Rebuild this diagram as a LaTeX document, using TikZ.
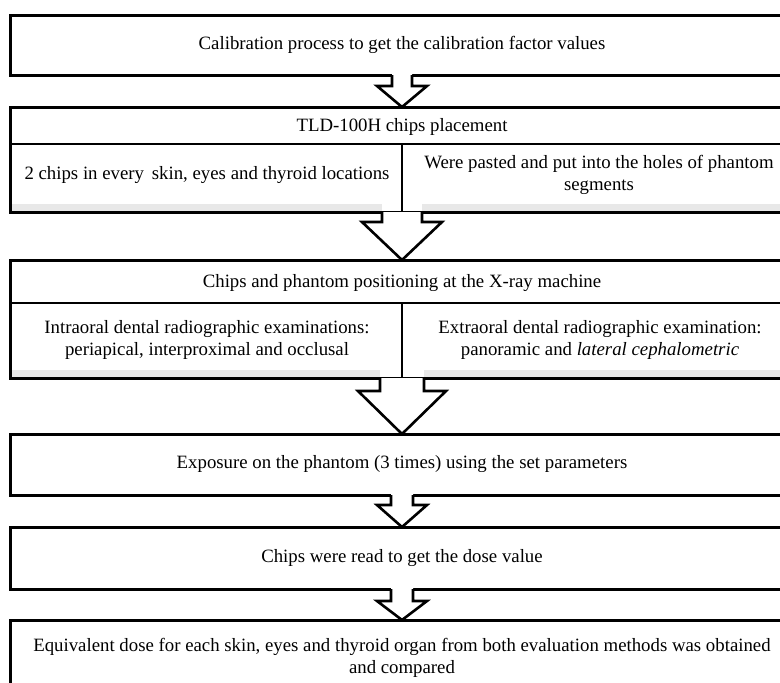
\documentclass[tikz,border=0pt]{standalone}
\usepackage{fontspec}
\setmainfont{Liberation Serif}
\usetikzlibrary{calc}
\begin{document}
\begin{tikzpicture}[x=1pt,y=-1pt,
  box/.style={draw=black,line width=3pt,minimum width=784pt,anchor=north west,inner sep=0pt,outer sep=0pt,align=center,font=\fontsize{18.8}{21.5}\selectfont},
  txt/.style={inner sep=0pt,align=center,font=\fontsize{18.8}{21.5}\selectfont},
  inner/.style={line width=2pt},
  arrline/.style={line width=2.6pt,line join=miter},
  band/.style={fill=black!9}]
\useasboundingbox (0,0) rectangle (780,683);
\clip (0,0) rectangle (780,683);
% boxes
\node[box,minimum height=60pt] (b1) at (10,15) {Calibration process to get the calibration factor values};
\node[box,minimum height=105pt] (b2) at (10,107) {};
\node[box,minimum height=118pt] (b3) at (10,260) {};
\node[box,minimum height=61pt] (b4) at (10,434) {Exposure on the phantom (3 times) using the set parameters};
\node[box,minimum height=62pt] (b5) at (10,527) {Chips were read to get the dose value};
\node[box,minimum height=90pt] (b6) at (10,620) {};
% box 2 content
\coordinate (d2) at (402,144);
\fill[band] (12,204) rectangle (382,210.5);
\fill[band] (422,204) rectangle (792,210.5);
\draw[inner] (b2.west |- d2) -- (b2.east |- d2);
\draw[inner] (d2) -- (d2 |- b2.south);
\node[txt] (b2h) at (402,127) {TLD-100H chips placement};
\node[txt] (b2l) at (207,175) {2 chips in every\, skin, eyes and thyroid locations};
\node[txt] (b2r) at (599,175) {Were pasted and put into the holes of phantom\\segments};
% box 3 content
\coordinate (d3) at (402,303);
\fill[band] (12,370) rectangle (380,376.5);
\fill[band] (424,370) rectangle (792,376.5);
\draw[inner] (b3.west |- d3) -- (b3.east |- d3);
\draw[inner] (d3) -- (d3 |- b3.south);
\node[txt] (b3h) at (402,283) {Chips and phantom positioning at the X-ray machine};
\node[txt] (b3l) at (207,340) {Intraoral dental radiographic examinations:\\periapical, interproximal and occlusal};
\node[txt] (b3r) at (600,340) {Extraoral dental radiographic examination:\\panoramic and \textit{lateral cephalometric}};
% box 6 content
\node[txt] (b6t) at (402,658) {Equivalent dose for each skin, eyes and thyroid organ from both evaluation methods was obtained\\and compared};
% arrow 1
\fill[white] ($(b1.south)+(-10,-2)$) -- ($(b1.south)+(-10,11)$) -- ($(b1.south)+(-25,11)$) -- (b2.north) -- ($(b1.south)+(25,11)$) -- ($(b1.south)+(10,11)$) -- ($(b1.south)+(10,-2)$) -- cycle;
\draw[arrline] ($(b1.south)+(-10,0)$) -- ($(b1.south)+(-10,11)$) -- ($(b1.south)+(-25,11)$) -- (b2.north) -- ($(b1.south)+(25,11)$) -- ($(b1.south)+(10,11)$) -- ($(b1.south)+(10,0)$);
% arrow 2
\draw[arrline,fill=white] ($(b2.south)+(-20,0)$) -- ($(b2.south)+(-20,10)$) -- ($(b2.south)+(-40,10)$) -- (b3.north) -- ($(b2.south)+(40,10)$) -- ($(b2.south)+(20,10)$) -- ($(b2.south)+(20,0)$);
% arrow 3
\draw[arrline,fill=white] ($(b3.south)+(-22,0)$) -- ($(b3.south)+(-22,13)$) -- ($(b3.south)+(-44,13)$) -- (b4.north) -- ($(b3.south)+(44,13)$) -- ($(b3.south)+(22,13)$) -- ($(b3.south)+(22,0)$);
% arrow 4
\fill[white] ($(b4.south)+(-11,-2)$) -- ($(b4.south)+(-11,10)$) -- ($(b4.south)+(-25,10)$) -- (b5.north) -- ($(b4.south)+(25,10)$) -- ($(b4.south)+(11,10)$) -- ($(b4.south)+(11,-2)$) -- cycle;
\draw[arrline] ($(b4.south)+(-11,0)$) -- ($(b4.south)+(-11,10)$) -- ($(b4.south)+(-25,10)$) -- (b5.north) -- ($(b4.south)+(25,10)$) -- ($(b4.south)+(11,10)$) -- ($(b4.south)+(11,0)$);
% arrow 5
\fill[white] ($(b5.south)+(-11,-2)$) -- ($(b5.south)+(-11,12)$) -- ($(b5.south)+(-25,12)$) -- (b6.north) -- ($(b5.south)+(25,12)$) -- ($(b5.south)+(11,12)$) -- ($(b5.south)+(11,-2)$) -- cycle;
\draw[arrline] ($(b5.south)+(-11,0)$) -- ($(b5.south)+(-11,12)$) -- ($(b5.south)+(-25,12)$) -- (b6.north) -- ($(b5.south)+(25,12)$) -- ($(b5.south)+(11,12)$) -- ($(b5.south)+(11,0)$);
\end{tikzpicture}
\end{document}
